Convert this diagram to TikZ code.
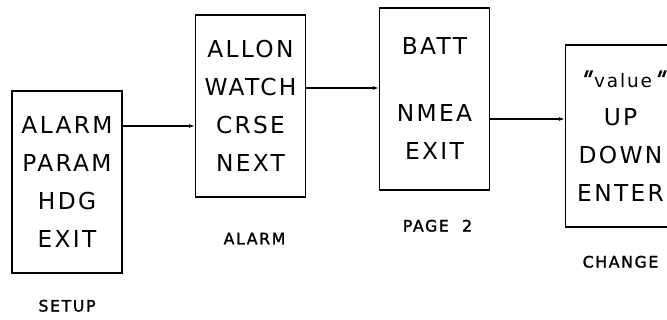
\documentclass[tikz,border=0pt]{standalone}
\usepackage{fontspec}
\newfontfamily\plotfont[LetterSpace=10]{DejaVu Sans}
\newfontfamily\captionfont[LetterSpace=10,FakeBold=1.5]{DejaVu Sans}
\newfontfamily\quotefont[FakeSlant=0.35,FakeBold=2]{DejaVu Sans}
\usetikzlibrary{positioning}
\usetikzlibrary{arrows.meta}

\begin{document}
\begin{tikzpicture}[x=1pt,y=-1pt,
    menu/.style={draw,line width=1.2pt,minimum width=110pt,minimum height=182pt,align=center,
      font=\plotfont\fontsize{23.3}{38}\selectfont},
    caption/.style={inner sep=0pt,font=\captionfont\fontsize{15.8}{18}\selectfont},
    link/.style={line width=1.2pt,-{Latex[length=6pt,width=4pt]}}]
    \useasboundingbox (0,0) rectangle (667,320);
    \node[menu] (setup) at (67,182) {ALARM\\PARAM\\HDG\\EXIT};
    \node[menu] (alarm) at (250.5,106) {ALLON\\WATCH\\CRSE\\NEXT};
    \node[menu] (page2) at (434.5,99) {BATT\\[29pt]NMEA\\EXIT};
    \node[menu] (change) at (620.5,136)
      {{\quotefont"}\hspace{5pt}{\fontsize{18.5}{38}\selectfont value}{\quotefont"}\\UP\\DOWN\\ENTER};
    \node[caption,below=26pt of setup] (setuplabel) {SETUP};
    \node[caption,below=35pt of alarm,xshift=4pt] (alarmlabel) {ALARM};
    \node[caption,below=29pt of page2,xshift=3pt] (page2label) {PAGE\ \ 2};
    \node[caption,below=28pt of change] (changelabel) {CHANGE};
    \draw[link] ([yshift=56pt]setup.east) -- ([yshift=-20pt]alarm.west);
    \draw[link] ([yshift=18pt]alarm.east) -- ([yshift=11pt]page2.west);
    \draw[link] ([yshift=-20pt]page2.east) -- ([yshift=17pt]change.west);
\end{tikzpicture}
\end{document}
